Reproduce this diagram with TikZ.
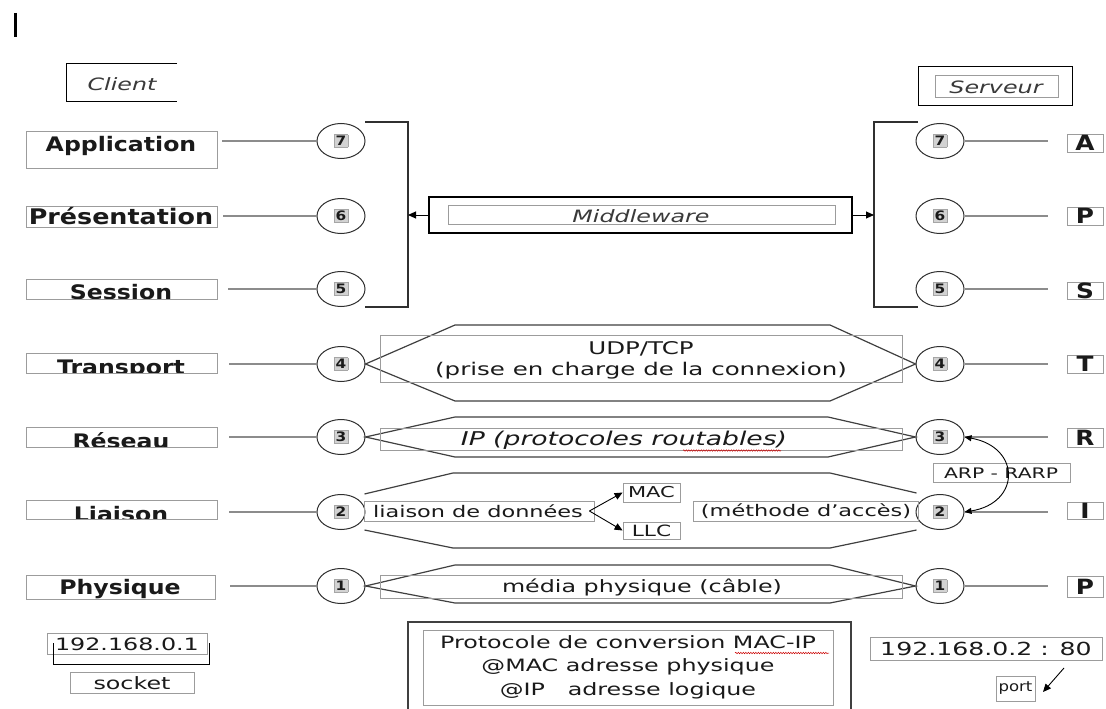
\documentclass[tikz,border=0pt]{standalone}
\usepackage{fontspec}
\setmainfont{DejaVu Sans}[FakeStretch=1.4]
\newfontfamily\labfont{DejaVu Sans}[FakeStretch=1.18]
\usetikzlibrary{shapes.geometric,arrows.meta,calc,fit,decorations.pathmorphing}
\definecolor{boxgray}{HTML}{9C9C9C}
\definecolor{conngray}{HTML}{8C8C8C}
\definecolor{ringc}{HTML}{303030}
\definecolor{hexc}{HTML}{404040}
\definecolor{txt}{HTML}{1A1A1A}
\definecolor{itx}{HTML}{3A3A3A}
\newcommand\fsz[1]{\fontsize{#1}{#1}\selectfont}
\newcommand\nbx[1]{{\setlength\fboxsep{1.5pt}\fcolorbox{gray!70}{gray!35}{\labfont\bfseries\fsz{13}\textcolor{txt}{#1}}}}
\begin{document}
\begin{tikzpicture}[x=1pt,y=-1pt,
  lbox/.style={draw=boxgray,line width=0.9pt,inner sep=0pt},
  ibox/.style={draw=boxgray,line width=0.8pt,inner sep=0pt},
  kbox/.style={draw=black,line width=1.3pt,inner sep=0pt},
  lbl/.style={font=\labfont\bfseries\fsz{20},text=txt,inner sep=0pt,anchor=base},
  rl/.style={font=\labfont\bfseries\fsz{21},text=txt,inner sep=0pt},
  tx/.style={text=txt,inner sep=0pt},
  conn/.style={draw=conngray,line width=1.2pt},
  ring/.style={ellipse,draw=ringc,line width=1pt,minimum width=48pt,minimum height=35pt,inner sep=0pt},
  hexl/.style={draw=hexc,line width=1.2pt,line join=miter},
  brk/.style={draw=ringc,line width=1.2pt},
  tri/.style={-{Triangle[length=8pt,width=7pt]},draw=black,line width=0.9pt},
  squig/.style={draw=red!80!black,line width=0.5pt,decorate,decoration={snake,amplitude=0.7pt,segment length=2.5pt}}
]
\useasboundingbox[fill=white] (0,0) rectangle (1106,709);

% cursor bar
\draw[line width=3pt] (15,13) -- (15,37);

% Client / Serveur headers
\draw[line width=1pt] (177,64) -- (66,64) -- (66,101) -- (177,101);
\node[tx,font=\itshape\fsz{17},text=itx] (client) at (122,84) {Client};
\node[kbox,line width=1pt,fit={(918,67) (1072,105)}] (srvo) {};
\node[ibox,fit={(935,75) (1058,97)}] (srvi) {};
\node[tx,font=\itshape\fsz{17},text=itx] (srv) at (996,87) {Serveur};

% left layer boxes
\node[lbox,fit={(26,131) (217,168)}] (app) {};
\node[lbl] (appt) at (121,151.5) {Application};
\node[lbox,fit={(26,206) (217,227)}] (pres) {};
\node[lbl,font=\labfont\bfseries\fsz{21.5}] (prest) at (121,224) {Présentation};
\begin{scope}
  \clip (26,279) rectangle (217,299);
  \node[lbl] (sesst) at (121,299.5) {Session};
\end{scope}
\node[lbox,fit={(26,279) (217,299)}] (sess) {};
\begin{scope}
  \clip (26,353) rectangle (217,373);
  \node[lbl] (trat) at (121,374) {Transport};
\end{scope}
\node[lbox,fit={(26,353) (217,373)}] (tra) {};
\begin{scope}
  \clip (26,427) rectangle (217,447);
  \node[lbl] (rest) at (121,448) {Réseau};
\end{scope}
\node[lbox,fit={(26,427) (217,447)}] (res) {};
\begin{scope}
  \clip (26,500) rectangle (217,519);
  \node[lbl] (liat) at (121,521) {Liaison};
\end{scope}
\node[lbox,fit={(26,500) (217,519)}] (lia) {};
\node[lbox,fit={(26,575) (215,599)}] (phy) {};
\node[lbl] (phyt) at (120,594) {Physique};

% right letter boxes
\node[lbox,fit={(1067,134) (1103,152)}] (rA) {};
\node[rl] (rAt) at (rA) {A};
\node[lbox,fit={(1067,207) (1103,225)}] (rP) {};
\node[rl] (rPt) at (rP) {P};
\node[lbox,fit={(1067,282) (1103,299)}] (rS) {};
\node[rl] (rSt) at (rS) {S};
\node[lbox,fit={(1067,355) (1103,373)}] (rT) {};
\node[rl] (rTt) at (rT) {T};
\node[lbox,fit={(1067,428) (1103,447)}] (rR) {};
\node[rl] (rRt) at (rR) {R};
\node[lbox,fit={(1067,502) (1103,519)}] (rI) {};
\node[rl] (rIt) at (rI) {I};
\node[lbox,fit={(1067,576) (1103,597)}] (rQ) {};
\node[rl] (rQt) at (rQ) {P};

% circles
\foreach \n/\y in {7/141,6/216,5/289,4/364,3/437,2/512,1/586}{
  \node[ring] (L\n) at (341,\y) {\nbx{\n}};
  \node[ring] (R\n) at (940,\y) {\nbx{\n}};
}

% left connectors
\draw[conn] ($(app.east|-L7)+(5,0)$) -- (L7.west);
\draw[conn] ($(pres.east|-L6)+(6,0)$) -- (L6.west);
\draw[conn] ($(sess.east|-L5)+(11,0)$) -- (L5.west);
\draw[conn] ($(tra.east|-L4)+(12,0)$) -- (L4.west);
\draw[conn] ($(res.east|-L3)+(12,0)$) -- (L3.west);
\draw[conn] ($(lia.east|-L2)+(12,0)$) -- (L2.west);
\draw[conn] ($(phy.east|-L1)+(15,0)$) -- (L1.west);

% right connectors
\draw[conn] (R7.east) -- ($(rA.west|-R7)+(-19,0)$);
\draw[conn] (R6.east) -- ($(rP.west|-R6)+(-19,0)$);
\draw[conn] (R5.east) -- ($(rS.west|-R5)+(-19,0)$);
\draw[conn] (R4.east) -- ($(rT.west|-R4)+(-19,0)$);
\draw[conn] (R3.east) -- ($(rR.west|-R3)+(-19,0)$);
\draw[conn] (R2.east) -- ($(rI.west|-R2)+(-19,0)$);
\draw[conn] (R1.east) -- ($(rQ.west|-R1)+(-19,0)$);

% brackets and middleware
\draw[brk] (365,122) -- (408,122) -- (408,307) -- (365,307);
\draw[brk] (918,122) -- (874,122) -- (874,307) -- (918,307);
\coordinate (lb) at (408,215);
\coordinate (rb) at (874,215);
\node[kbox,fit={(429,197) (852,233)}] (mwo) {};
\node[ibox,fit={(448,205) (835,224)}] (mwi) {};
\node[tx,font=\itshape\fsz{17},text=itx] (mw) at (641,216) {Middleware};
\draw[tri] (mwo.west) -- (lb);
\draw[tri] (mwo.east) -- (rb);

% transport
\draw[hexl] (L4.east) -- (455,325) -- (830,325) -- (R4.west) -- (830,401) -- (455,401) -- cycle;
\node[ibox,fit={(380,335) (902,382)}] (udpb) {};
\node[tx,font=\fontsize{17.5}{21}\selectfont,align=center] (udp) at (641,360) {UDP/TCP\\(prise en charge de la connexion)};

% network
\draw[hexl] (L3.east) -- (455,417) -- (828,417) -- (R3.west) -- (828,457) -- (455,457) -- cycle;
\node[ibox,fit={(380,428) (902,450)}] (ipb) {};
\node[tx,font=\itshape\fsz{19}] (ip) at (624,440) {IP (protocoles routables)};
\draw[squig] (683,450.5) -- (781,450.5);

% data link
\draw[hexl] ($(L2.east)+(-1,-18)$) -- (453,473) -- (830,473) -- ($(R2.west)+(1,-19)$);
\draw[hexl] ($(L2.east)+(-1,18)$) -- (453,548) -- (830,548) -- ($(R2.west)+(1,18)$);
\node[ibox,fit={(364,501) (594,521)}] (ldd) {};
\node[tx,font=\fsz{16}] (lddt) at (478,511) {liaison de données};
\node[ibox,fit={(623,483) (680,502)}] (mac) {};
\node[tx,font=\fsz{15}] (mact) at (mac) {MAC};
\node[ibox,fit={(623,522) (680,539)}] (llc) {};
\node[tx,font=\fsz{15.5}] (llct) at (llc) {LLC};
\draw[tri] ($(ldd.east)+(-5,0)$) -- (mac.west);
\draw[tri] ($(ldd.east)+(-5,0)$) -- (llc.west);
\node[ibox,fit={(693,501) (918,521)}] (meth) {};
\node[tx,font=\fsz{16}] (metht) at (806,511) {(méthode d’accès)};

% ARP - RARP
\node[ibox,fit={(933,463) (1070,482)}] (arp) {};
\node[tx,font=\fsz{14.5}] (arpt) at (1001,473) {ARP - RARP};
\draw[{Triangle[length=7pt,width=6pt]}-{Triangle[length=7pt,width=6pt]},line width=0.9pt] (R3.east) .. controls (1021,447) and (1021,503) .. (R2.east);

% physical
\draw[hexl] (L1.east) -- (455,565) -- (830,565) -- (R1.west) -- (830,603) -- (455,603) -- cycle;
\node[ibox,fit={(380,575) (902,598)}] (medb) {};
\node[tx,font=\fsz{17}] (med) at (642,587) {média physique (câble)};

% bottom left
\node[ibox,fit={(47,633) (207,654)}] (ip1b) {};
\node[tx,font=\fsz{17}] (ip1) at (127,644) {192.168.0.1};
\draw[draw=black,line width=1pt] (53,643) -- (53,664) -- (209,664) -- (209,643);
\node[ibox,fit={(70,672) (194,693)}] (sockb) {};
\node[tx,font=\fsz{17}] (sock) at (132,683) {socket};

% protocol box
\draw[draw=hexc,line width=1.5pt] (408,715) -- (408,622) -- (851,622) -- (851,715);
\node[ibox,fit={(423,630) (833,705)}] (protb) {};
\node[tx,font=\fontsize{17}{23.5}\selectfont,align=center] (prot) at (628,667) {Protocole de conversion MAC-IP\\@MAC adresse physique\\@IP\ \ \ adresse logique};
\draw[squig] (735,653) -- (829,653);

% bottom right
\node[ibox,fit={(870,637) (1102,660)}] (ip2b) {};
\node[tx,font=\fsz{18}] (ip2) at (986,649) {192.168.0.2 : 80};
\node[ibox,fit={(996,676) (1035,701)}] (portb) {};
\node[tx,font=\labfont\fsz{14}] (port) at (portb) {port};
\coordinate (pa) at (1064,668);
\coordinate (pb) at (1043,692);
\draw[tri] (pa) -- (pb);
\end{tikzpicture}
\end{document}
